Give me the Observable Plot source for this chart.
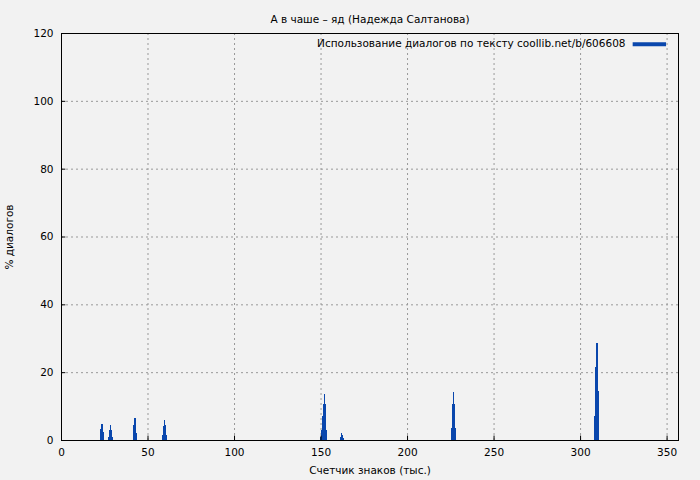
<!DOCTYPE html>
<html>
<head>
<meta charset="utf-8">
<script src="https://cdn.jsdelivr.net/npm/d3@7"></script>
<script src="https://cdn.jsdelivr.net/npm/@observablehq/plot@0.6"></script>
<style>
  html, body { margin: 0; padding: 0; background: #f2f2f2; }
  svg { display: block; }
</style>
</head>
<body>
<div id="chart"></div>
<script>
const title = "А в чаше – яд (Надежда Салтанова)";
const xLabel = "Счетчик знаков (тыс.)";
const yLabel = "% диалогов";
const legendLabel = "Использование диалогов по тексту coollib.net/b/606608";
const xTicks = [0, 50, 100, 150, 200, 250, 300, 350];
const yTicks = [0, 20, 40, 60, 80, 100, 120];

// bin start positions (thousand characters) and % of dialogues
const binX = [
  22.5, 23.0, 23.5, 24.0,
  27.5, 28.0, 28.5, 29.0, 29.5,
  41.5, 42.0, 42.5, 43.0,
  58.5, 59.0, 59.5, 60.0, 60.5,
  150.0, 150.5, 151.0, 151.5, 152.0, 152.5, 153.0,
  161.5, 162.0, 162.5, 163.0,
  225.5, 226.0, 226.5, 227.0, 227.5,
  308.5, 309.0, 309.5, 310.0
];
const binV = [
  1.0, 3.2, 4.7, 2.5,
  1.0, 3.0, 4.3, 3.0, 1.0,
  1.5, 4.5, 6.5, 2.0,
  1.5, 4.0, 5.8, 4.5, 1.5,
  1.0, 3.0, 7.0, 10.5, 13.5, 10.5, 3.0,
  0.8, 2.0, 1.5, 0.5,
  3.5, 10.5, 14.2, 10.5, 3.5,
  7.0, 21.5, 28.5, 14.5
];
const binW = 0.5;
const data = binX.map((x, i) => ({x1: x, x2: x + binW, v: binV[i]}));

const color = "#0a47ad";
const font = "DejaVu Sans, sans-serif";
const fs = 10.5;

const chart = Plot.plot({
  width: 700,
  height: 480,
  marginLeft: 61,
  marginRight: 22,
  marginTop: 33,
  marginBottom: 40,
  style: {background: "#f2f2f2", fontFamily: font, fontSize: fs + "px", color: "#000"},
  x: {domain: [0, 356.6], ticks: xTicks, label: null, tickSize: 0},
  y: {domain: [0, 120], ticks: yTicks, label: null, tickSize: 0},
  marks: [
    Plot.gridX(xTicks, {stroke: "#999", strokeOpacity: 1, strokeDasharray: "2,3"}),
    Plot.gridY(yTicks, {stroke: "#999", strokeOpacity: 1, strokeDasharray: "2,3"}),
    Plot.rectY(data, {x1: "x1", x2: "x2", y: "v", fill: color, insetLeft: -0.3, insetRight: -0.3, shapeRendering: "crispEdges"}),
    Plot.frame({stroke: "#000"}),
    Plot.ruleX(xTicks, {x: d => d, y1: 0, y2: 1.3, stroke: "#000"}),
    Plot.ruleY(yTicks, {y: d => d, x1: 0, x2: 2.5, stroke: "#000"}),
    Plot.axisX(xTicks, {tickSize: 0, tickPadding: 8, fontSize: fs}),
    Plot.axisY(yTicks, {tickSize: 0, tickPadding: 8, fontSize: fs}),
    Plot.text([title], {frameAnchor: "top", dy: -18, fontSize: fs}),
    Plot.text([xLabel], {frameAnchor: "bottom", dy: 33, fontSize: fs}),
    Plot.text([yLabel], {frameAnchor: "left", dx: -52, rotate: -90, textAnchor: "middle", fontSize: fs}),
    Plot.text([legendLabel], {frameAnchor: "top-right", dx: -53, dy: 6, textAnchor: "end", fontSize: fs}),
    Plot.ruleY([116.8], {x1: 330.4, x2: 349.7, stroke: color, strokeWidth: 4})
  ]
});
document.getElementById("chart").append(chart);
</script>
</body>
</html>
